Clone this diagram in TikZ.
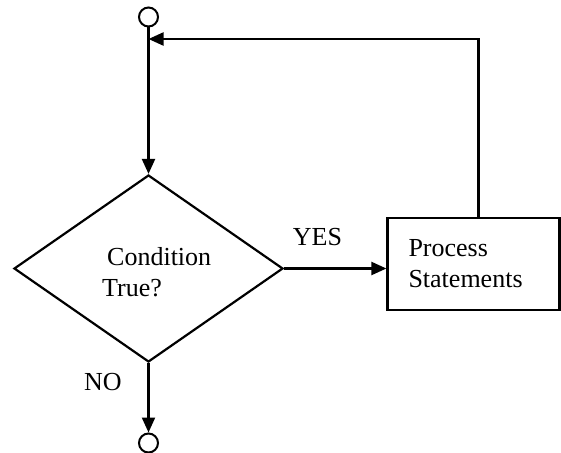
\documentclass[tikz,border=0pt]{standalone}
\usepackage{fontspec}
\setmainfont{Liberation Serif}
\usetikzlibrary{arrows.meta,shapes.geometric}

\tikzset{
  line/.style={line width=2.2pt, draw=black},
  arrowline/.style={line, -{Triangle[length=15pt,width=13pt]}},
  terminal/.style={circle, line width=2pt, draw, minimum size=19pt, inner sep=0pt},
  decision/.style={diamond, line, minimum width=269pt, minimum height=187pt, inner sep=0pt},
  process/.style={rectangle, line, minimum height=92pt, text width=130pt,
                  inner xsep=21pt, align=left, font=\fontsize{26}{31}\selectfont},
  label/.style={font=\fontsize{26}{31}\selectfont, inner sep=0pt}
}

\begin{document}
\begin{tikzpicture}[x=1pt,y=-1pt]
  \useasboundingbox (0,0) rectangle (561,452);

  % start and end terminals
  \node[terminal] (topc) at (148.5,17) {};
  \node[terminal] (botc) at (148.5,443) {};

  % loop condition
  \node[decision] (cond) at (148.5,268.5) {};
  \node[label, anchor=west, align=left] (condtext) at (102,272)
    {\hspace{5pt}Condition\\True?};

  % loop body
  \node[process] (proc) at (473.5,264) {Process\\Statements};

  % branch labels
  \node[label] (yes) at (317.5,237) {YES};
  \node[label] (no) at (103,382) {NO};

  % joining point of the feedback path
  \coordinate (join) at (148.5,39);

  % connectors
  \draw[arrowline] (topc.south) -- (cond.north);
  \draw[arrowline] (cond.east) -- (cond.east -| proc.west);
  \draw[arrowline] (cond.south) -- (botc.north);
  \draw[arrowline] ([xshift=5pt]proc.north) |- (join);
\end{tikzpicture}
\end{document}
